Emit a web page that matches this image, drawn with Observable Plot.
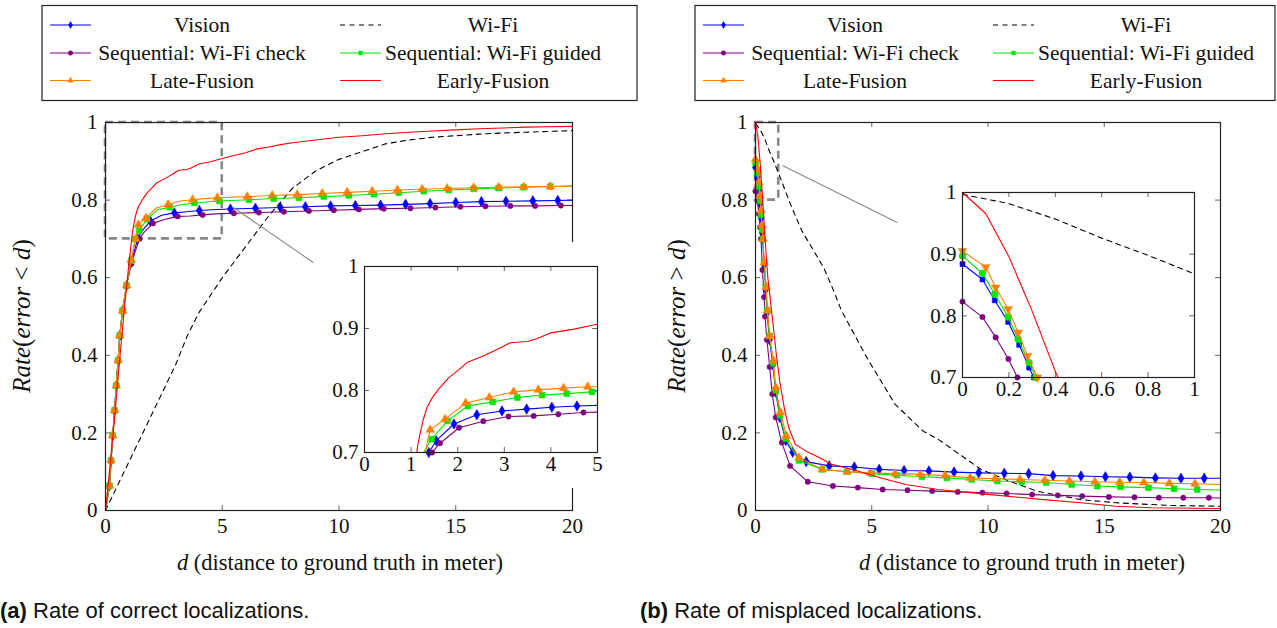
<!DOCTYPE html>
<html><head><meta charset="utf-8">
<script src="https://cdn.jsdelivr.net/npm/d3@7"></script>
<script src="https://cdn.jsdelivr.net/npm/@observablehq/plot@0.6"></script>
<style>
body{margin:0;background:#fff;}
#root{position:relative;width:1277px;height:628px;overflow:hidden;background:#fff;}
#root svg text{font-family:"Liberation Serif","Times New Roman",serif;}
</style></head><body><div id="root"></div>
<script>
// ---------------- DATA: panel (a) Rate(error < d) ----------------
const visionA_d = [0,0.17,0.24,0.31,0.39,0.46,0.54,0.61,0.73,0.9,1.1,1.38,1.54,1.92,2.41,2.95,3.48,4.02,4.56,5.35,6.42,7.49,8.56,9.64,10.7,11.78,12.85,13.9,15.0,16.1,17.15,18.3,19.37,20];
const visionA_r = [0,0.064,0.129,0.193,0.258,0.322,0.387,0.451,0.515,0.58,0.64,0.70,0.719,0.746,0.761,0.767,0.770,0.773,0.775,0.777,0.779,0.781,0.783,0.785,0.786,0.787,0.789,0.791,0.794,0.796,0.797,0.798,0.799,0.80];
const wifiA_d = [0,1,2,3,3.5,4,5,6,7,8,9,10,11,12,13,14,15,16,17,18,19,20];
const wifiA_r = [0,0.125,0.25,0.375,0.45,0.51,0.60,0.68,0.76,0.83,0.875,0.905,0.925,0.945,0.955,0.962,0.966,0.97,0.973,0.975,0.977,0.979];
const checkA_d = [0,0.17,0.24,0.31,0.39,0.46,0.54,0.61,0.73,0.9,1.1,1.45,1.62,2.03,2.55,3.09,3.63,4.16,4.70,5.5,6.57,7.64,8.71,9.78,10.85,11.92,13.06,14.13,15.2,16.27,17.34,18.4,19.5,20];
const checkA_r = [0,0.064,0.129,0.193,0.258,0.322,0.387,0.451,0.515,0.578,0.635,0.70,0.715,0.740,0.7505,0.758,0.759,0.7618,0.7645,0.766,0.768,0.77,0.772,0.774,0.776,0.778,0.779,0.781,0.783,0.784,0.785,0.785,0.786,0.786];
const guidedA_d = [0,0.17,0.24,0.31,0.39,0.46,0.54,0.61,0.73,0.9,1.1,1.27,1.44,1.78,2.22,2.75,3.28,3.81,4.34,4.88,6.14,7.21,8.28,9.35,10.42,11.5,12.56,13.63,14.7,15.77,16.84,17.91,19.05,20];
const guidedA_r = [0,0.064,0.129,0.193,0.258,0.322,0.387,0.451,0.515,0.58,0.644,0.70,0.7215,0.751,0.775,0.7817,0.7887,0.7925,0.795,0.7978,0.801,0.804,0.806,0.809,0.812,0.815,0.819,0.823,0.826,0.829,0.831,0.833,0.835,0.836];
const lateA_d = [0,0.17,0.24,0.31,0.39,0.46,0.54,0.61,0.73,0.9,1.1,1.30,1.41,1.73,2.17,2.68,3.20,3.73,4.27,4.79,6.07,7.14,8.21,9.28,10.35,11.42,12.5,13.56,14.63,15.77,16.84,17.91,19.05,20];
const lateA_r = [0,0.064,0.129,0.193,0.258,0.322,0.387,0.451,0.515,0.58,0.646,0.70,0.7366,0.7538,0.7796,0.7887,0.7978,0.801,0.8038,0.806,0.809,0.812,0.814,0.817,0.82,0.823,0.826,0.828,0.83,0.832,0.833,0.834,0.835,0.836];
const earlyA_d = [0,0.2,0.4,0.6,0.8,1.0,1.15,1.25,1.34,1.45,1.6,1.8,2.0,2.2,2.56,2.9,3.13,3.5,3.71,4.0,4.5,5,5.5,6,6.5,7,7.5,8,9,10,11,12,13,14,15,16,17,18,19,20];
const earlyA_r = [0,0.12,0.245,0.385,0.515,0.635,0.715,0.75,0.772,0.788,0.803,0.82,0.832,0.845,0.856,0.868,0.877,0.879,0.884,0.893,0.899,0.907,0.915,0.922,0.932,0.937,0.943,0.948,0.955,0.962,0.966,0.971,0.975,0.978,0.981,0.984,0.986,0.988,0.989,0.99];

// ---------------- DATA: panel (b) Rate(error > d) ----------------
const visionB_d = [0,0.086,0.139,0.197,0.244,0.287,0.308,0.37,0.44,0.5,0.6,0.75,0.87,1.05,1.3,1.6,2.18,3.17,4.25,5.32,6.39,7.46,8.54,9.6,10.7,11.75,12.8,14,15.05,16.1,17.2,18.3,19.3,20];
const visionB_r = [0.884,0.859,0.825,0.79,0.753,0.716,0.70,0.635,0.57,0.51,0.44,0.375,0.305,0.24,0.18,0.15,0.126,0.115,0.112,0.106,0.103,0.102,0.099,0.097,0.096,0.095,0.09,0.089,0.087,0.086,0.084,0.083,0.083,0.083];
const wifiB_d = [0,0.2,0.4,0.6,0.8,1.0,1.5,2.0,2.5,2.94,3.3,3.7,4.78,6.0,7.2,7.85,8.77,9.7,10.9,12.1,14,15.5,17.8,20];
const wifiB_r = [0.997,0.982,0.957,0.926,0.898,0.868,0.79,0.72,0.67,0.625,0.575,0.515,0.395,0.274,0.205,0.184,0.145,0.106,0.076,0.05,0.028,0.02,0.013,0.011];
const checkB_d = [0,0.086,0.143,0.198,0.237,0.3,0.37,0.41,0.49,0.61,0.72,0.87,1.13,1.49,2.25,3.33,4.4,5.47,6.54,7.6,8.7,9.76,10.8,11.9,13,14.05,15.2,16.3,17.35,18.4,19.5,20];
const checkB_r = [0.823,0.798,0.765,0.73,0.70,0.62,0.55,0.5,0.44,0.37,0.30,0.24,0.175,0.115,0.074,0.063,0.059,0.054,0.052,0.05,0.048,0.046,0.044,0.041,0.039,0.037,0.035,0.034,0.033,0.033,0.033,0.032];
const guidedB_d = [0,0.086,0.139,0.197,0.24,0.287,0.316,0.37,0.44,0.5,0.6,0.75,0.87,1.05,1.3,1.87,2.87,3.94,5.0,6.08,7.16,8.23,9.3,10.4,11.45,12.5,13.6,14.7,15.7,16.9,18,19,20];
const guidedB_r = [0.897,0.869,0.835,0.798,0.762,0.724,0.70,0.64,0.576,0.516,0.45,0.38,0.31,0.245,0.185,0.129,0.106,0.1,0.095,0.091,0.087,0.084,0.08,0.076,0.074,0.072,0.067,0.063,0.061,0.059,0.056,0.054,0.053];
const lateB_d = [0,0.1,0.143,0.197,0.24,0.28,0.323,0.38,0.46,0.52,0.61,0.77,0.87,1.07,1.33,1.87,2.87,3.94,4.93,6.0,7.08,8.15,9.23,10.3,11.37,12.44,13.5,14.6,15.66,16.7,17.8,18.9,20];
const lateB_r = [0.905,0.879,0.846,0.811,0.773,0.735,0.70,0.64,0.576,0.516,0.45,0.386,0.317,0.253,0.192,0.136,0.106,0.1,0.097,0.095,0.093,0.09,0.084,0.082,0.08,0.078,0.076,0.074,0.073,0.072,0.07,0.069,0.067];
const earlyB_d = [0,0.1,0.2,0.3,0.4,0.53,0.7,0.9,1.05,1.26,1.45,1.72,2.18,2.7,3.25,4.32,5.4,6.47,7.85,10.1,12.4,14,15.5,17,20];
const earlyB_r = [1.0,0.966,0.896,0.808,0.71,0.60,0.51,0.40,0.33,0.257,0.21,0.17,0.153,0.138,0.12,0.103,0.084,0.067,0.054,0.041,0.028,0.02,0.011,0.007,0.005];

// ---------------- labels & ticks ----------------
const seriesNames = ["Vision","Wi-Fi","Sequential: Wi-Fi check","Sequential: Wi-Fi guided","Late-Fusion","Early-Fusion"];
const seriesColors = ["#0000ff","#000000","#800080","#00e600","#ff8000","#ff0000"];
const mainXTicks = [0,5,10,15,20];
const mainYTicks = [0,0.2,0.4,0.6,0.8,1];
const insetAXTicks = [0,1,2,3,4,5];
const insetAYTicks = [0.7,0.8,0.9,1];
const insetBXTicks = [0,0.2,0.4,0.6,0.8,1];
const insetBYTicks = [0.7,0.8,0.9,1];
const spyRectA = [0,5,0.7,1];
const spyLinkA = [5.48,0.781,8.9,0.639];
const spyRectB = [0,1,0.8,1];
const spyLinkB = [1.16,0.889,6.1,0.742];
const xLabelText = "(distance to ground truth in meter)";
const captionA = ["(a)"," Rate of correct localizations."];
const captionB = ["(b)"," Rate of misplaced localizations."];

// ---------------- build ----------------
const SERIF = "'Liberation Serif','Times New Roman',serif";
const SANS = "'Liberation Sans',Arial,Helvetica,sans-serif";
const zip = (d, r) => d.map((x, i) => ({d: x, r: r[i], i}));

function makeSeries(arrs, symbols, sizes, rotates) {
  return arrs.map((a, k) => ({name: seriesNames[k], color: seriesColors[k], pts: zip(a[0], a[1]),
    symbol: symbols[k], size: sizes[k], rotate: rotates ? rotates[k] : 0, dash: k === 1 ? "5,4.5" : null}));
}
const dataA = [[visionA_d,visionA_r],[wifiA_d,wifiA_r],[checkA_d,checkA_r],[guidedA_d,guidedA_r],[lateA_d,lateA_r],[earlyA_d,earlyA_r]];
const dataB = [[visionB_d,visionB_r],[wifiB_d,wifiB_r],[checkB_d,checkB_r],[guidedB_d,guidedB_r],[lateB_d,lateB_r],[earlyB_d,earlyB_r]];
const symMain = ["diamond",null,"circle","square","triangle",null];
const sizeMain = [3.2,0,2.7,3.3,3.2,0];
const seriesAmain = makeSeries(dataA, symMain, sizeMain);
const seriesAinset = makeSeries(dataA, symMain, sizeMain);
const seriesBmain = makeSeries(dataB, symMain, sizeMain);
const seriesBinset = makeSeries(dataB, ["square",null,"circle","circle","triangle",null], [2.8,0,2.7,3.4,3.2,0], [0,0,0,0,180,0]);

const root = document.getElementById("root");

function buildPlot(cfg) {
  const innerW = cfg.width - cfg.ml - cfg.mr;
  const innerH = cfg.height - cfg.mt - cfg.mb;
  const tl = cfg.tickLen;
  const tickStyle = {stroke: "#666", strokeWidth: 1};
  const marks = [];
  if (cfg.rect) {
    marks.push(Plot.rect([cfg.rect], {x1: d => d[0], x2: d => d[1], y1: d => d[2], y2: d => d[3],
      fill: "none", stroke: "#888", strokeWidth: 2.6, strokeDasharray: "8,5"}));
  }
  marks.push(Plot.ruleX(cfg.xTicks, {x: d => d, insetTop: innerH - tl, ...tickStyle}));
  marks.push(Plot.ruleX(cfg.xTicks, {x: d => d, insetBottom: innerH - tl, ...tickStyle}));
  marks.push(Plot.ruleY(cfg.yTicks, {y: d => d, insetRight: innerW - tl, ...tickStyle}));
  marks.push(Plot.ruleY(cfg.yTicks, {y: d => d, insetLeft: innerW - tl, ...tickStyle}));
  for (const s of cfg.series) {
    marks.push(Plot.line(s.pts, {x: "d", y: "r", stroke: s.color, strokeWidth: 1.1,
      strokeDasharray: s.dash, clip: true}));
    if (s.symbol) {
      marks.push(Plot.dot(s.pts.filter(p => cfg.markFilter(p, s)), {x: "d", y: "r", symbol: s.symbol,
        r: s.size, fill: s.color, stroke: s.color, strokeWidth: 0.5, rotate: s.rotate}));
    }
  }
  if (cfg.link) {
    marks.push(Plot.link([cfg.link], {x1: d => d[0], y1: d => d[1], x2: d => d[2], y2: d => d[3],
      stroke: "#888", strokeWidth: 1.1}));
  }
  marks.push(Plot.frame({stroke: "#222", strokeWidth: 1.2}));
  const svg = Plot.plot({
    width: cfg.width, height: cfg.height,
    marginLeft: cfg.ml, marginRight: cfg.mr, marginTop: cfg.mt, marginBottom: cfg.mb,
    x: {domain: cfg.xDomain, ticks: cfg.xTicks, tickSize: 0, tickPadding: cfg.xPad, tickFormat: d => String(d), label: null},
    y: {domain: cfg.yDomain, ticks: cfg.yTicks, tickSize: 0, tickPadding: cfg.yPad, tickFormat: d => String(d), label: null},
    style: {fontFamily: SERIF, fontSize: "21px", background: cfg.bg || "transparent", color: "#111", overflow: "hidden"},
    marks
  });
  svg.style.position = "absolute";
  svg.style.left = cfg.left + "px";
  svg.style.top = cfg.top + "px";
  svg.style.maxWidth = "none";
  root.appendChild(svg);
  return svg;
}

const legendRowY = [25, 53, 80.5];
function drawLegend(svg, x0, boxW) {
  const g = d3.select(svg).append("g");
  g.append("rect").attr("x", x0).attr("y", 5.5).attr("width", boxW).attr("height", 95)
    .attr("fill", "white").attr("stroke", "#222").attr("stroke-width", 1.2);
  const symMap = {diamond: d3.symbolDiamond, circle: d3.symbolCircle, square: d3.symbolSquare, triangle: d3.symbolTriangle};
  seriesAmain.forEach((s, k) => {
    const col = k % 2, row = Math.floor(k / 2);
    const cy = legendRowY[row];
    const lx = x0 + (col ? 298 : 8);
    g.append("line").attr("x1", lx).attr("x2", lx + 41).attr("y1", cy).attr("y2", cy)
      .attr("stroke", s.color).attr("stroke-width", 1.1).attr("stroke-dasharray", s.dash);
    if (s.symbol) {
      const size = s.symbol === "circle" ? 16 : 14;
      g.append("path").attr("d", d3.symbol(symMap[s.symbol], size)())
        .attr("transform", `translate(${lx + 20.5},${cy})`).attr("fill", s.color).attr("stroke", s.color).attr("stroke-width", 0.5);
    }
    g.append("text").attr("x", x0 + (col ? 451 : 160)).attr("y", cy + 7).attr("text-anchor", "middle")
      .attr("font-family", SERIF).attr("font-size", 21.5).attr("fill", "#111").text(s.name);
  });
}

function drawLabels(svg, yLabX, ySym, xLabCx, capX, cap) {
  const g = d3.select(svg).append("g").attr("fill", "#111");
  const t = g.append("text").attr("transform", `translate(${yLabX},316) rotate(-90)`).attr("text-anchor", "middle")
    .attr("dy", "0.35em").attr("font-family", SERIF).attr("font-size", 25);
  t.append("tspan").attr("font-style", "italic").text("Rate");
  t.append("tspan").text("(");
  t.append("tspan").attr("font-style", "italic").text("error");
  t.append("tspan").text(" " + ySym + " ");
  t.append("tspan").attr("font-style", "italic").text("d");
  t.append("tspan").text(")");
  const x = g.append("text").attr("x", xLabCx).attr("y", 570).attr("text-anchor", "middle")
    .attr("font-family", SERIF).attr("font-size", 22.5);
  x.append("tspan").attr("font-style", "italic").text("d");
  x.append("tspan").text(" " + xLabelText);
  const c = g.append("text").attr("x", capX).attr("y", 618).attr("text-anchor", "start")
    .attr("style", `font-family:${SANS};font-size:22px`);
  c.append("tspan").attr("font-weight", "bold").text(cap[0]);
  c.append("tspan").text(cap[1]);
}

// ---- panel (a) main ----
const svgA = buildPlot({left: 0, top: 0, width: 640, height: 628, ml: 105, mr: 68, mt: 122, mb: 118,
  xDomain: [0, 20], yDomain: [0, 1], xTicks: mainXTicks, yTicks: mainYTicks, xPad: 8, yPad: 8, tickLen: 5,
  series: seriesAmain, rect: spyRectA, link: spyLinkA,
  markFilter: (p, s) => p.d > 0 && p.d < 20 && (p.d <= 1.5 || p.d >= 5 || p.i % 2 === 1)});
drawLegend(svgA, 42, 595);
drawLabels(svgA, 21, "<", 340, 0, captionA);

// ---- panel (b) main ----
const svgB = buildPlot({left: 640, top: 0, width: 637, height: 628, ml: 115, mr: 57, mt: 122, mb: 118,
  xDomain: [0, 20], yDomain: [0, 1], xTicks: mainXTicks, yTicks: mainYTicks, xPad: 8, yPad: 8, tickLen: 5,
  series: seriesBmain, rect: spyRectB, link: spyLinkB,
  markFilter: (p, s) => p.d < 20});
drawLegend(svgB, 55, 580);
drawLabels(svgB, 36, ">", 382, 0, captionB);

// ---- inset (a) ----
buildPlot({left: 315, top: 242, width: 290, height: 246, ml: 49, mr: 8, mt: 24, mb: 36,
  xDomain: [0, 5], yDomain: [0.7, 1], xTicks: insetAXTicks, yTicks: insetAYTicks, xPad: 4, yPad: 6, tickLen: 5,
  series: seriesAinset, bg: "white",
  markFilter: (p, s) => p.d > 1.35 && p.d < 5 && p.r >= 0.7});

// ---- inset (b) ----
buildPlot({left: 915, top: 170, width: 290, height: 240, ml: 47, mr: 11, mt: 22, mb: 33,
  xDomain: [0, 1], yDomain: [0.7, 1], xTicks: insetBXTicks, yTicks: insetBYTicks, xPad: 4, yPad: 6, tickLen: 5,
  series: seriesBinset, bg: "white",
  markFilter: (p, s) => p.d <= 1 && p.r >= 0.7});
</script></body></html>
